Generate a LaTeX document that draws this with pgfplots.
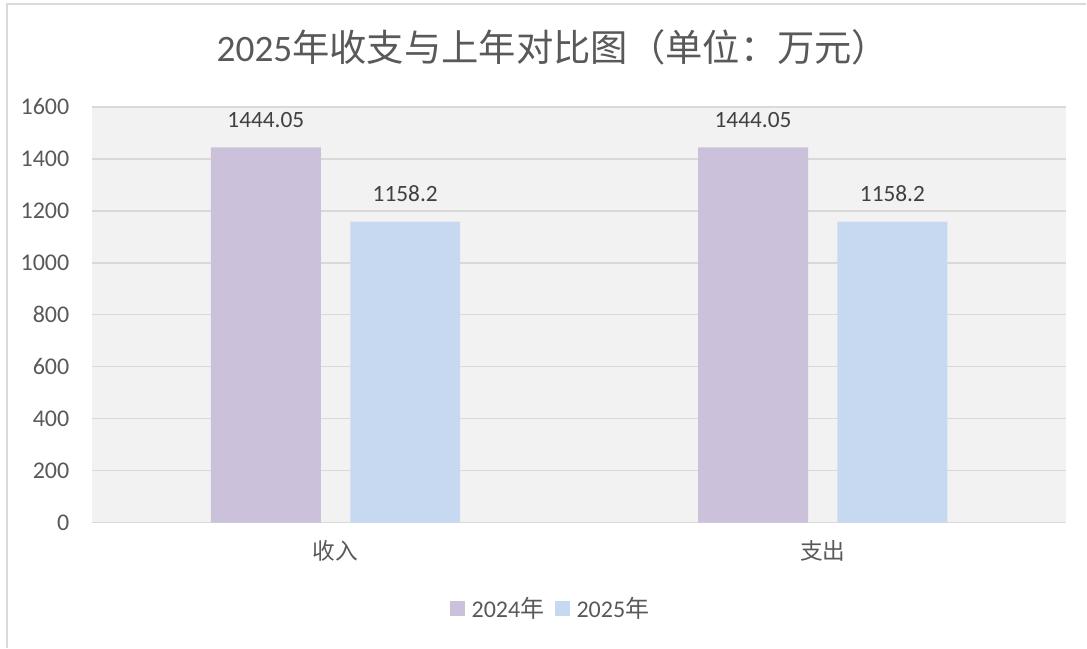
\documentclass[border=0pt]{standalone}
\usepackage{pgfplots}
\pgfplotsset{compat=1.18}
\usepackage{fontspec}
\setmainfont{Carlito}
\newfontfamily\cjk{Noto Sans CJK SC}
\definecolor{txt}{HTML}{595959}
\definecolor{lbl}{HTML}{404040}
\definecolor{gridc}{HTML}{D9D9D9}
\definecolor{bgp}{HTML}{F2F2F2}
\definecolor{purp}{HTML}{CCC1DA}
\definecolor{blu}{HTML}{C6D9F0}
\begin{document}
\begin{tikzpicture}
\path (-69pt,-93.75pt) rectangle (746.25pt,392.25pt);
\draw[gridc, line width=1pt] (-63.75pt,-93.75pt) -- (-63.75pt,389.25pt) -- (746.25pt,389.25pt);
\begin{axis}[
  scale only axis,
  width=731.25pt, height=312pt,
  xmin=-0.5, xmax=1.5, ymin=0, ymax=1600,
  axis background/.style={fill=bgp},
  axis x line*=bottom, axis y line*=left,
  x axis line style={draw=gridc, line width=1pt, -},
  y axis line style={draw=none},
  ytick={0,200,...,1600},
  xtick={0,1},
  xticklabels={{\cjk 收入},{\cjk 支出}},
  xmajorgrids=false,
  ymajorgrids, major grid style={draw=gridc, line width=1pt},
  major tick length=0pt,
  xtick style={draw=none},
  ytick style={draw=none},
  /pgf/number format/assume math mode=true,
  /pgf/number format/1000 sep={},
  ticklabel style={font=\fontsize{18}{21}\selectfont, text=txt},
  yticklabel style={anchor=east, xshift=-13.5pt},
  xticklabel style={anchor=center, yshift=-21pt, font=\fontsize{17}{20}\selectfont},
  enlargelimits=false,
  clip=false,
  legend style={at={(0.471,-0.207)}, anchor=center, draw=none, fill=none,
    font=\fontsize{18}{21}\selectfont, text=txt, legend columns=-1,
    /tikz/every odd column/.append style={column sep=3pt},
    /tikz/every even column/.append style={column sep=6pt}},
  legend image code/.code={\fill[#1] (0pt,-5.6pt) rectangle (11.25pt,5.6pt);},
]
\addplot[ybar, bar width=82.5pt, bar shift=-52.3pt, fill=purp, draw=none,
  nodes near coords={\pgfmathprintnumber[fixed,precision=2]{\pgfplotspointmeta}},
  every node near coord/.append style={anchor=base, xshift=-52.3pt, yshift=15pt, font=\fontsize{17.5}{20}\selectfont, text=lbl}]
  coordinates {(0,1444.05) (1,1444.05)};
\addlegendentry{2024{\cjk 年}}
\addplot[ybar, bar width=82.5pt, bar shift=52.3pt, fill=blu, draw=none,
  nodes near coords={\pgfmathprintnumber[fixed,precision=2]{\pgfplotspointmeta}},
  every node near coord/.append style={anchor=base, xshift=52.3pt, yshift=15pt, font=\fontsize{17.5}{20}\selectfont, text=lbl}]
  coordinates {(0,1158.2) (1,1158.2)};
\addlegendentry{2025{\cjk 年}}
\end{axis}
\node[text=txt, font=\fontsize{28}{32}\selectfont] at (346pt,357pt) {2025{\cjk 年收支与上年对比图（单位：万元）}};
\end{tikzpicture}
\end{document}
